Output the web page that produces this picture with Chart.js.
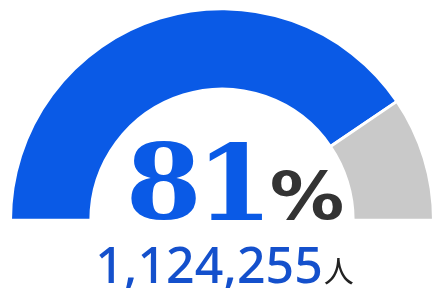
<!DOCTYPE html>
<html>
<head>
<meta charset="utf-8">
<script src="https://cdn.jsdelivr.net/npm/chart.js@4/dist/chart.umd.min.js"></script>
<style>
  html, body { margin: 0; padding: 0; background: #fff; }
  #wrap { width: 435px; height: 288px; }
</style>
</head>
<body>
<div id="wrap"><canvas id="gauge"></canvas></div>
<script>
// data
var labels = ['該当', 'その他'];
var values = [81, 19];
var colors = ['#0a5ae6', '#c9c9c9'];
var percentText = '81';
var countText = '1,124,255';
var unitText = '人';

// draw one glyph stretched so its ink fills the given box
function fitGlyph(ctx, ch, font, left, right, top, bottom) {
    ctx.save();
    ctx.font = font;
    ctx.textAlign = 'left';
    ctx.textBaseline = 'alphabetic';
    var m = ctx.measureText(ch);
    var inkW = m.actualBoundingBoxLeft + m.actualBoundingBoxRight;
    var inkH = m.actualBoundingBoxAscent + m.actualBoundingBoxDescent;
    var sx = (right - left) / inkW;
    var sy = (bottom - top) / inkH;
    ctx.translate(left, bottom);
    ctx.scale(sx, sy);
    ctx.fillText(ch, m.actualBoundingBoxLeft, -m.actualBoundingBoxDescent);
    ctx.restore();
}

// draws the big number and count under the arc
var centerText = {
    id: 'centerText',
    afterDraw: function(chart) {
        var arc = chart.getDatasetMeta(0).data[0];
        if (!arc) return;
        var ctx = chart.ctx;
        var cx = arc.x, cy = arc.y;

        ctx.fillStyle = '#0a5ae6';
        var bigFont = 'bold 104px "DejaVu Serif"';
        fitGlyph(ctx, percentText[0], bigFont, cx - 91, cx - 26, cy - 80, cy);
        fitGlyph(ctx, percentText[1], bigFont, cx - 13, cx + 40, cy - 79, cy);

        ctx.fillStyle = '#333333';
        fitGlyph(ctx, '%', 'bold 68px "DejaVu Sans"', cx + 50, cx + 120, cy - 50, cy);

        // count + unit
        ctx.save();
        ctx.textBaseline = 'alphabetic';
        ctx.textAlign = 'left';
        ctx.font = '500 50px "Noto Sans"';
        var w3 = ctx.measureText(countText).width;
        ctx.font = '30px "Noto Sans CJK JP"';
        var w4 = ctx.measureText(unitText).width;
        var x1 = cx - (w3 + w4) / 2 + 2;
        ctx.fillStyle = '#1450cc';
        ctx.font = '500 50px "Noto Sans"';
        ctx.fillText(countText, x1, cy + 63);
        ctx.fillStyle = '#222222';
        ctx.font = '30px "Noto Sans CJK JP"';
        ctx.fillText(unitText, x1 + w3 + 1, cy + 62);
        ctx.restore();
    }
};

var gauge = document.getElementById('gauge').getContext('2d');
var gaugeChart = new Chart(gauge, {
    type: 'doughnut',
    data: {
        labels: labels,
        datasets: [{
            data: values,
            backgroundColor: colors,
            borderColor: '#ffffff',
            borderWidth: 3
        }]
    },
    options: {
        responsive: true,
        maintainAspectRatio: false,
        animation: false,
        rotation: -90,
        circumference: 180,
        cutout: '62%',
        layout: { padding: { left: 9, right: 0, top: 7, bottom: 66 } },
        plugins: {
            legend: { display: false },
            tooltip: { enabled: false }
        }
    },
    plugins: [centerText]
});
</script>
</body>
</html>
